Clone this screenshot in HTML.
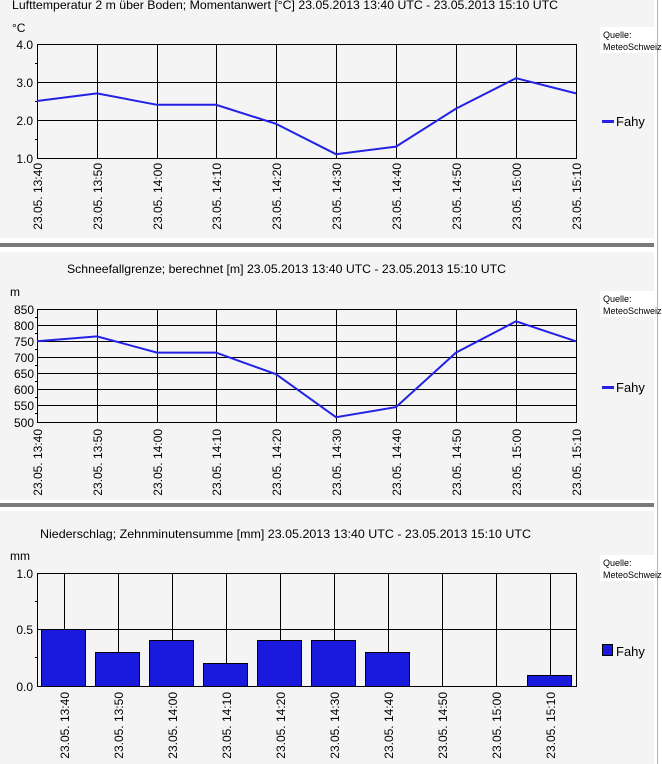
<!DOCTYPE html>
<html><head><meta charset="utf-8"><style>
html,body{margin:0;padding:0;background:#f4f4f4;}
svg{display:block;font-family:"Liberation Sans",sans-serif;}
</style></head><body>
<svg width="662" height="764" viewBox="0 0 662 764" xmlns="http://www.w3.org/2000/svg">
<rect width="662" height="764" fill="#f4f4f4"/>
<!-- separators -->
<rect x="0" y="238" width="656" height="5" fill="#fff"/>
<rect x="0" y="243" width="656" height="4" fill="#7a7a7a"/>
<rect x="0" y="247" width="656" height="5" fill="#fff"/>
<rect x="0" y="500" width="656" height="3" fill="#fff"/>
<rect x="0" y="503" width="656" height="4" fill="#7a7a7a"/>
<rect x="0" y="507" width="656" height="4" fill="#fff"/>
<!-- scrollbar -->
<rect x="654" y="0" width="8" height="764" fill="#fff"/>
<line x1="657.5" y1="0" x2="657.5" y2="764" stroke="#9bb4dc"/>
<g font-size="9" fill="#000">
<rect x="600" y="27" width="55" height="26" fill="#fff"/>
<text x="603" y="38">Quelle:</text><text x="603" y="50">MeteoSchweiz</text>
<rect x="600" y="291" width="55" height="26" fill="#fff"/>
<text x="603" y="302">Quelle:</text><text x="603" y="314">MeteoSchweiz</text>
<rect x="600" y="555" width="55" height="26" fill="#fff"/>
<text x="603" y="566">Quelle:</text><text x="603" y="578">MeteoSchweiz</text>
</g>

<!-- CHART 1 -->
<text x="12" y="9" font-size="12" textLength="546" lengthAdjust="spacingAndGlyphs">Lufttemperatur 2 m über Boden; Momentanwert [°C]  23.05.2013 13:40 UTC - 23.05.2013 15:10 UTC</text>
<text x="12" y="32" font-size="12">°C</text>
<g stroke="#000" stroke-width="1">
<line x1="37" y1="82.5" x2="576" y2="82.5"/><line x1="37" y1="120.5" x2="576" y2="120.5"/>
<line x1="97.5" y1="44" x2="97.5" y2="158"/><line x1="157.5" y1="44" x2="157.5" y2="158"/><line x1="216.5" y1="44" x2="216.5" y2="158"/><line x1="276.5" y1="44" x2="276.5" y2="158"/><line x1="336.5" y1="44" x2="336.5" y2="158"/><line x1="396.5" y1="44" x2="396.5" y2="158"/><line x1="456.5" y1="44" x2="456.5" y2="158"/><line x1="516.5" y1="44" x2="516.5" y2="158"/>
<rect x="37.5" y="44.5" width="539" height="114" fill="none"/>
<line x1="35" y1="63.5" x2="37" y2="63.5"/><line x1="35" y1="101.5" x2="37" y2="101.5"/><line x1="35" y1="139.5" x2="37" y2="139.5"/>
</g>
<g font-size="12" text-anchor="end"><text x="33" y="49">4.0</text><text x="33" y="87">3.0</text><text x="33" y="125">2.0</text><text x="33" y="163">1.0</text></g>
<polyline fill="none" stroke="#2222e6" stroke-width="2" points="37,101 97,93.4 157,104.8 216,104.8 276,123.8 336,154.2 396,146.6 456,108.6 516,78.2 576,93.4"/>
<g font-size="12" text-anchor="end">
<text transform="translate(42,163) rotate(-90)">23.05. 13:40</text>
<text transform="translate(102,163) rotate(-90)">23.05. 13:50</text>
<text transform="translate(162,163) rotate(-90)">23.05. 14:00</text>
<text transform="translate(221,163) rotate(-90)">23.05. 14:10</text>
<text transform="translate(281,163) rotate(-90)">23.05. 14:20</text>
<text transform="translate(341,163) rotate(-90)">23.05. 14:30</text>
<text transform="translate(401,163) rotate(-90)">23.05. 14:40</text>
<text transform="translate(461,163) rotate(-90)">23.05. 14:50</text>
<text transform="translate(521,163) rotate(-90)">23.05. 15:00</text>
<text transform="translate(581,163) rotate(-90)">23.05. 15:10</text>
</g>
<rect x="602" y="120" width="12" height="3" fill="#2222e6"/>
<text x="616" y="126" font-size="13">Fahy</text>

<!-- CHART 2 -->
<text x="67" y="273" font-size="12" textLength="439" lengthAdjust="spacingAndGlyphs">Schneefallgrenze; berechnet [m]  23.05.2013 13:40 UTC - 23.05.2013 15:10 UTC</text>
<text x="10" y="296" font-size="12">m</text>
<g stroke="#000" stroke-width="1">
<line x1="37" y1="325.5" x2="576" y2="325.5"/><line x1="37" y1="341.5" x2="576" y2="341.5"/><line x1="37" y1="357.5" x2="576" y2="357.5"/><line x1="37" y1="373.5" x2="576" y2="373.5"/><line x1="37" y1="389.5" x2="576" y2="389.5"/><line x1="37" y1="405.5" x2="576" y2="405.5"/>
<line x1="97.5" y1="309" x2="97.5" y2="422"/><line x1="157.5" y1="309" x2="157.5" y2="422"/><line x1="216.5" y1="309" x2="216.5" y2="422"/><line x1="276.5" y1="309" x2="276.5" y2="422"/><line x1="336.5" y1="309" x2="336.5" y2="422"/><line x1="396.5" y1="309" x2="396.5" y2="422"/><line x1="456.5" y1="309" x2="456.5" y2="422"/><line x1="516.5" y1="309" x2="516.5" y2="422"/>
<rect x="37.5" y="309.5" width="539" height="113" fill="none"/>
<line x1="35" y1="317.5" x2="37" y2="317.5"/><line x1="35" y1="333.5" x2="37" y2="333.5"/><line x1="35" y1="349.5" x2="37" y2="349.5"/><line x1="35" y1="365.5" x2="37" y2="365.5"/><line x1="35" y1="381.5" x2="37" y2="381.5"/><line x1="35" y1="397.5" x2="37" y2="397.5"/><line x1="35" y1="413.5" x2="37" y2="413.5"/>
</g>
<g font-size="12" text-anchor="end"><text x="34" y="314">850</text><text x="34" y="330">800</text><text x="34" y="346">750</text><text x="34" y="362">700</text><text x="34" y="378">650</text><text x="34" y="394">600</text><text x="34" y="410">550</text><text x="34" y="427">500</text></g>
<polyline fill="none" stroke="#2222e6" stroke-width="2" points="37,341.3 97,336.4 157,352.6 216,352.6 276,374.2 336,417.2 396,407.1 456,352.6 516,321.3 576,341.3"/>
<g font-size="12" text-anchor="end">
<text transform="translate(42,429) rotate(-90)">23.05. 13:40</text>
<text transform="translate(102,429) rotate(-90)">23.05. 13:50</text>
<text transform="translate(162,429) rotate(-90)">23.05. 14:00</text>
<text transform="translate(221,429) rotate(-90)">23.05. 14:10</text>
<text transform="translate(281,429) rotate(-90)">23.05. 14:20</text>
<text transform="translate(341,429) rotate(-90)">23.05. 14:30</text>
<text transform="translate(401,429) rotate(-90)">23.05. 14:40</text>
<text transform="translate(461,429) rotate(-90)">23.05. 14:50</text>
<text transform="translate(521,429) rotate(-90)">23.05. 15:00</text>
<text transform="translate(581,429) rotate(-90)">23.05. 15:10</text>
</g>
<rect x="602" y="386" width="12" height="3" fill="#2222e6"/>
<text x="616" y="392" font-size="13">Fahy</text>

<!-- CHART 3 -->
<text x="40" y="538" font-size="12" textLength="491" lengthAdjust="spacingAndGlyphs">Niederschlag; Zehnminutensumme [mm]  23.05.2013 13:40 UTC - 23.05.2013 15:10 UTC</text>
<text x="10" y="560" font-size="12">mm</text>
<g stroke="#000" stroke-width="1">
<line x1="37" y1="629.5" x2="576" y2="629.5"/>
<line x1="64.5" y1="573" x2="64.5" y2="686"/><line x1="118.5" y1="573" x2="118.5" y2="686"/><line x1="172.5" y1="573" x2="172.5" y2="686"/><line x1="226.5" y1="573" x2="226.5" y2="686"/><line x1="280.5" y1="573" x2="280.5" y2="686"/><line x1="334.5" y1="573" x2="334.5" y2="686"/><line x1="388.5" y1="573" x2="388.5" y2="686"/><line x1="442.5" y1="573" x2="442.5" y2="686"/><line x1="496.5" y1="573" x2="496.5" y2="686"/><line x1="550.5" y1="573" x2="550.5" y2="686"/>
<rect x="37.5" y="573.5" width="539" height="113" fill="none"/>
<line x1="35" y1="601.5" x2="37" y2="601.5"/><line x1="35" y1="657.5" x2="37" y2="657.5"/>
</g>
<g stroke="#000" fill="#1a1adc">
<rect x="41.5" y="629.5" width="44" height="57"/>
<rect x="95.5" y="652.5" width="44" height="34"/>
<rect x="149.5" y="640.5" width="44" height="46"/>
<rect x="203.5" y="663.5" width="44" height="23"/>
<rect x="257.5" y="640.5" width="44" height="46"/>
<rect x="311.5" y="640.5" width="44" height="46"/>
<rect x="365.5" y="652.5" width="44" height="34"/>
<rect x="527.5" y="675.5" width="44" height="11"/>
<rect x="602.5" y="644.5" width="10" height="11"/>
</g>
<g font-size="12" text-anchor="end"><text x="33" y="578">1.0</text><text x="33" y="634">0.5</text><text x="33" y="691">0.0</text></g>
<g font-size="12" text-anchor="end">
<text transform="translate(69,692) rotate(-90)">23.05. 13:40</text>
<text transform="translate(123,692) rotate(-90)">23.05. 13:50</text>
<text transform="translate(177,692) rotate(-90)">23.05. 14:00</text>
<text transform="translate(231,692) rotate(-90)">23.05. 14:10</text>
<text transform="translate(285,692) rotate(-90)">23.05. 14:20</text>
<text transform="translate(339,692) rotate(-90)">23.05. 14:30</text>
<text transform="translate(393,692) rotate(-90)">23.05. 14:40</text>
<text transform="translate(447,692) rotate(-90)">23.05. 14:50</text>
<text transform="translate(501,692) rotate(-90)">23.05. 15:00</text>
<text transform="translate(555,692) rotate(-90)">23.05. 15:10</text>
</g>
<text x="616" y="656" font-size="13">Fahy</text>
</svg>
</body></html>
